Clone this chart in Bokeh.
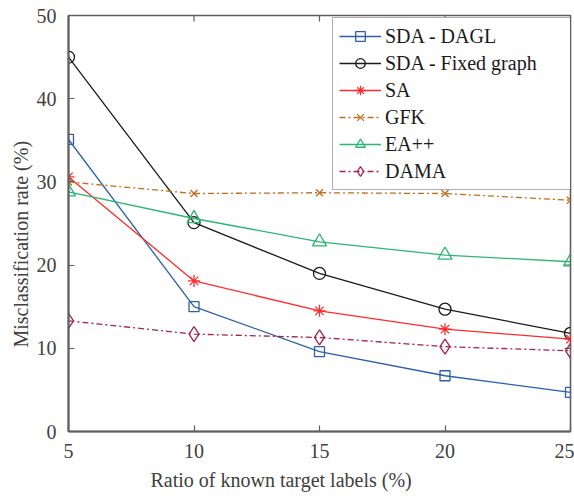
from bokeh.plotting import figure
from bokeh.models import Range1d, FixedTicker, Legend, Title
from bokeh.embed import file_html
from bokeh.resources import INLINE

# ---- data ----
ratios = [5, 10, 15, 20, 25]
sda_dagl = [35.1, 15.0, 9.6, 6.7, 4.7]
sda_fixed = [45.0, 25.1, 19.0, 14.7, 11.8]
sa = [30.6, 18.1, 14.5, 12.3, 11.1]
gfk = [30.0, 28.6, 28.7, 28.6, 27.8]
ea_pp = [28.8, 25.6, 22.8, 21.2, 20.4]
dama = [13.3, 11.7, 11.3, 10.2, 9.7]

x_ticks = [5, 10, 15, 20, 25]
y_ticks = [0, 10, 20, 30, 40, 50]
x_label = "Ratio of known target labels (%)"
y_label = "Misclassification rate (%)"

FONT = "'Liberation Serif', serif"
AX = "#5f5f5f"
X0, X1, Y0, Y1 = 5, 25, 0, 50

p = figure(width=574, height=498, output_backend="svg", toolbar_location=None,
           x_range=Range1d(X0, X1), y_range=Range1d(Y0, Y1),
           min_border_left=68, min_border_right=4, min_border_top=15, min_border_bottom=67)
p.xgrid.visible = False
p.ygrid.visible = False
p.outline_line_color = AX
p.outline_line_width = 1.6
p.background_fill_color = "white"
p.border_fill_color = "white"

p.xaxis.ticker = FixedTicker(ticks=x_ticks)
p.yaxis.ticker = FixedTicker(ticks=y_ticks)
for ax in (p.xaxis, p.yaxis):
    ax.axis_line_color = AX
    ax.axis_line_width = 2
    ax.major_tick_line_color = AX
    ax.major_tick_line_width = 1.2
    ax.major_tick_in = 6
    ax.major_tick_out = 0
    ax.minor_tick_line_color = None
    ax.major_label_text_font = FONT
    ax.major_label_text_font_style = "normal"
    ax.major_label_text_font_size = "20px"
    ax.major_label_text_color = "#404040"
    ax.major_label_standoff = 12

# inward ticks on the top and right edges (box style)
p.ray(x=[X1] * len(y_ticks), y=y_ticks, length=6, length_units="screen",
      angle=180, angle_units="deg", line_color=AX, line_width=1.2)
p.ray(x=x_ticks, y=[Y1] * len(x_ticks), length=6, length_units="screen",
      angle=270, angle_units="deg", line_color=AX, line_width=1.2)

series = [
    ("SDA - DAGL", sda_dagl, "#2c5fab", "solid", "square", 10),
    ("SDA - Fixed graph", sda_fixed, "#1a1a1a", "solid", "circle", 12),
    ("SA", sa, "#ff2b2b", "solid", "asterisk", 12),
    ("GFK", gfk, "#c06d1a", "6 3 2 3", "x", 10),
    ("EA++", ea_pp, "#2bb673", "solid", "triangle", 14),
    ("DAMA", dama, "#a3224f", "6 3 2 3", "diamond", 15),
]

items = []
for name, ys, color, dash, marker, size in series:
    r1 = p.line(ratios, ys, line_color=color, line_width=1.3, line_dash=dash)
    r2 = p.scatter(ratios, ys, marker=marker, size=size, line_color=color,
                   fill_color=None, line_width=1.3)
    items.append((name, [r1, r2]))

legend = Legend(items=items, location=(264, 241))
legend.margin = 0
legend.padding = 6
legend.spacing = 3
legend.glyph_width = 42
legend.glyph_height = 24
legend.label_height = 24
legend.label_width = 181
legend.label_standoff = 4
legend.label_text_font = FONT
legend.label_text_font_style = "normal"
legend.label_text_font_size = "20px"
legend.label_text_color = "#1a1a1a"
legend.border_line_color = AX
legend.border_line_width = 1.5
legend.background_fill_color = "white"
legend.background_fill_alpha = 1.0
p.add_layout(legend, "center")

xt = Title(text=x_label, align="left", offset=82, standoff=12,
           text_font=FONT, text_font_size="20px", text_font_style="normal",
           text_color="#404040")
yt = Title(text=y_label, align="left", offset=84, standoff=4,
           text_font=FONT, text_font_size="20px", text_font_style="normal",
           text_color="#404040")
p.add_layout(xt, "below")
p.add_layout(yt, "left")

open("out.html", "w").write(file_html(p, INLINE))
